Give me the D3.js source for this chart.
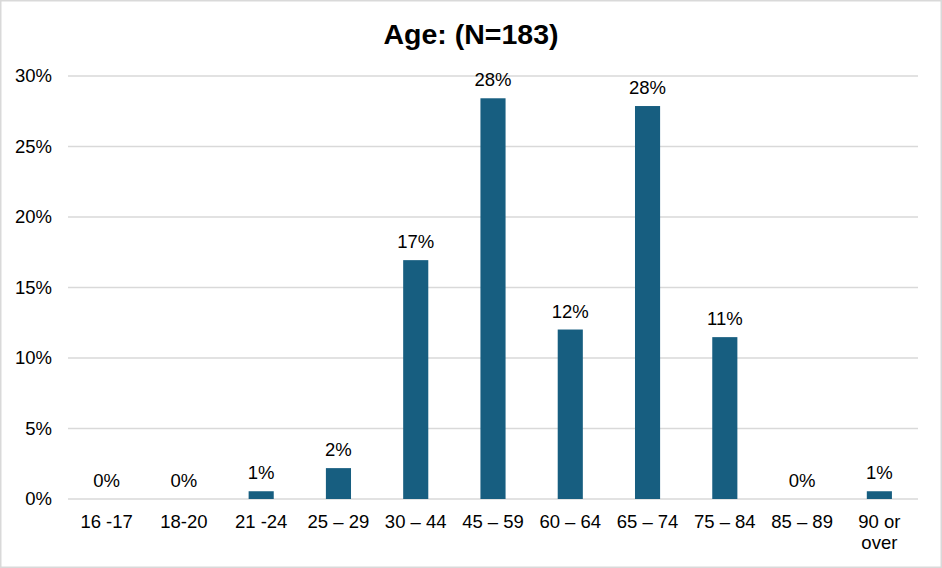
<!DOCTYPE html>
<html>
<head>
<meta charset="utf-8">
<script src="https://cdn.jsdelivr.net/npm/d3@7"></script>
<style>
  body { margin: 0; background: #fff; }
  svg { display: block; font-family: "Liberation Sans", Arial, sans-serif; }
</style>
</head>
<body>
<svg id="chart" width="942" height="568"></svg>
<script>
// data (share of N=183)
var categories = ["16 -17", "18-20", "21 -24", "25 \u2013 29", "30 \u2013 44", "45 \u2013 59",
                  "60 \u2013 64", "65 \u2013 74", "75 \u2013 84", "85 \u2013 89", "90 or over"];
var values = [0, 0, 0.55, 2.19, 16.94, 28.42, 12.02, 27.87, 11.48, 0, 0.55];
var yTicks = [0, 5, 10, 15, 20, 25, 30];
var title = "Age: (N=183)";

var width = 942, height = 568;
var margin = { top: 76, right: 24, bottom: 69, left: 68 };
var fs = "18.5px";

var svg = d3.select("#chart");

svg.append("rect")
    .attr("x", 0.75).attr("y", 0.75)
    .attr("width", width - 1.5).attr("height", height - 1.5)
    .attr("fill", "#fff")
    .attr("stroke", "#d9d9d9")
    .attr("stroke-width", 1.5);

var x = d3.scaleBand()
    .domain(categories)
    .range([margin.left, width - margin.right])
    .paddingInner(0.675)
    .paddingOuter(0.3375);

var y = d3.scaleLinear()
    .domain([0, 30])
    .range([height - margin.bottom, margin.top]);

// gridlines
svg.append("g")
    .selectAll("line")
    .data(yTicks)
    .join("line")
    .attr("x1", margin.left)
    .attr("x2", width - margin.right)
    .attr("y1", d => y(d))
    .attr("y2", d => y(d))
    .attr("stroke", "#d9d9d9")
    .attr("stroke-width", 1.5);

// y labels
svg.append("g")
    .selectAll("text")
    .data(yTicks)
    .join("text")
    .attr("x", 52)
    .attr("y", d => y(d))
    .attr("dy", "0.35em")
    .attr("text-anchor", "end")
    .style("font-size", fs)
    .attr("fill", "#000")
    .text(d => d + "%");

// bars
svg.append("g")
    .selectAll("rect")
    .data(values)
    .join("rect")
    .attr("x", (d, i) => x(categories[i]))
    .attr("width", x.bandwidth())
    .attr("y", d => y(d))
    .attr("height", d => y(0) - y(d))
    .attr("fill", "#175e80");

// value labels
svg.append("g")
    .selectAll("text")
    .data(values)
    .join("text")
    .attr("x", (d, i) => x(categories[i]) + x.bandwidth() / 2)
    .attr("y", d => y(d) - 12)
    .attr("text-anchor", "middle")
    .style("font-size", fs)
    .attr("fill", "#000")
    .text(d => Math.round(d) + "%");

// x labels
var xl = svg.append("g")
    .selectAll("text")
    .data(categories)
    .join("text")
    .attr("x", d => x(d) + x.bandwidth() / 2)
    .attr("y", y(0) + 29)
    .attr("text-anchor", "middle")
    .style("font-size", fs)
    .attr("fill", "#000");

xl.each(function(d) {
    var t = d3.select(this);
    var parts = d === "90 or over" ? ["90 or", "over"] : [d];
    parts.forEach(function(p, k) {
        t.append("tspan")
            .attr("x", t.attr("x"))
            .attr("dy", k === 0 ? 0 : "21px")
            .text(p);
    });
});

svg.append("text")
    .attr("x", width / 2)
    .attr("y", 44)
    .attr("text-anchor", "middle")
    .style("font-size", "28.5px")
    .style("font-weight", "bold")
    .attr("fill", "#000")
    .text(title);
</script>
</body>
</html>
